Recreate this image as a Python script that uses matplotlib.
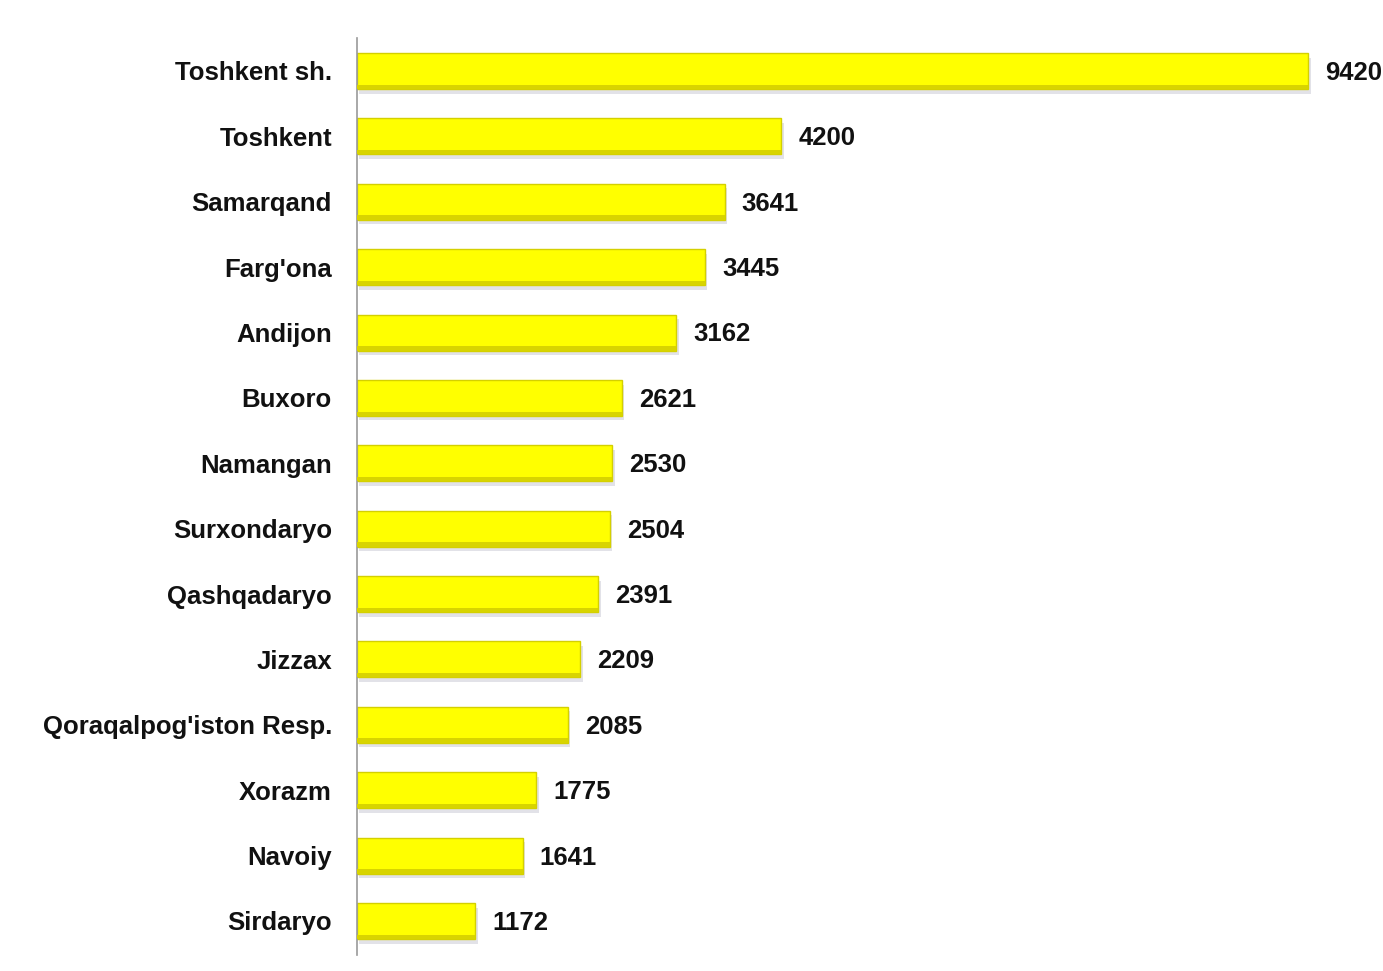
import matplotlib.pyplot as plt
import numpy as np

regions = ["Toshkent sh.", "Toshkent", "Samarqand", "Farg'ona", "Andijon", "Buxoro",
           "Namangan", "Surxondaryo", "Qashqadaryo", "Jizzax", "Qoraqalpog'iston Resp.",
           "Xorazm", "Navoiy", "Sirdaryo"]
values = [9420, 4200, 3641, 3445, 3162, 2621, 2530, 2504, 2391, 2209, 2085, 1775, 1641, 1172]

plt.rcParams['font.family'] = ['Liberation Sans', 'DejaVu Sans']

fig = plt.figure(figsize=(13.83, 9.71), dpi=100)
ax = fig.add_axes([0.2581, 0.0165, 0.7419, 0.9444])

y = np.arange(len(regions))
h = 0.55

# soft shadow under the bars
ax.barh(y + 0.07, values, height=h, left=25, color='#a0a0b4', alpha=0.3, zorder=1)
ax.barh(y, values, height=h, color='#ffff00', edgecolor='#d4d000', linewidth=1.0, zorder=2)
# slightly darker bottom edge for depth
ax.barh(y + h * 0.44, values, height=h * 0.12, color='#d8d400', linewidth=0, zorder=3)

for yi, v in zip(y, values):
    ax.text(v + 170, yi + 0.03, str(v), va='center', ha='left', fontsize=18.5,
            fontweight='bold', color='#111111')

ax.set_yticks(y)
ax.set_yticklabels(regions, fontsize=18.5, fontweight='bold', color='#111111')
ax.tick_params(axis='y', length=0, pad=18)
ax.set_xticks([])
ax.set_xlim(0, 10160)
ax.set_ylim(13.52, -0.505)

for s in ['top', 'right', 'bottom']:
    ax.spines[s].set_visible(False)
ax.spines['left'].set_color('#999999')
ax.spines['left'].set_linewidth(1.2)

fig.savefig('out.png', dpi=100)
